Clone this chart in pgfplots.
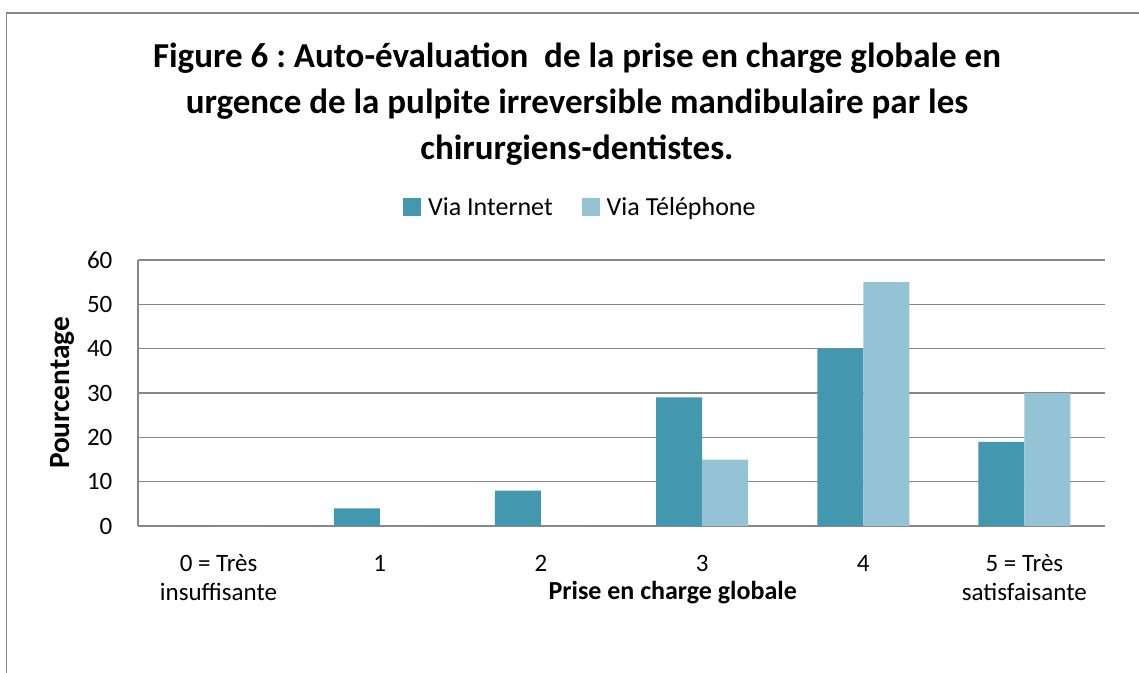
\documentclass[border=0pt]{standalone}
\usepackage{pgfplots}
\pgfplotsset{compat=1.18}
\usepackage{fontspec}
\setmainfont{Carlito}
\frenchspacing
\definecolor{cInt}{HTML}{4397AF}
\definecolor{cTel}{HTML}{93C3D4}
\definecolor{cGrid}{HTML}{878787}
\begin{document}
\begin{tikzpicture}
\useasboundingbox (0pt,0pt) rectangle (854.25pt,-504.75pt);
\clip (0pt,0pt) rectangle (854.25pt,-504.75pt);
\draw[cGrid, line width=1.4pt] (4.9pt,-9.5pt) rectangle (900pt,-600pt);
\begin{axis}[
  at={(103.5pt,-394.5pt)}, anchor=south west,
  scale only axis, width=725.25pt, height=199.5pt,
  ybar=0pt, bar width=34.5pt,
  xmin=-0.5, xmax=5.5, ymin=0, ymax=60,
  xtick=data,
  xticklabels={{0 = Très\\insuffisante},{1\\\phantom{x}},{2\\\phantom{x}},{3\\\phantom{x}},{4\\\phantom{x}},{5 = Très\\satisfaisante}},
  ytick={0,10,20,30,40,50,60},
  major tick length=0pt,
  axis x line*=bottom, axis y line*=left,
  axis line style={cGrid, line width=0.9pt, -},
  ymajorgrids, grid style={cGrid, line width=0.9pt},
  tick label style={font=\fontsize{18.75pt}{21.75pt}\selectfont, text=black},
  /pgf/number format/assume math mode=true,
  yticklabel style={inner sep=0pt, xshift=-19pt, anchor=east},
  xticklabel style={align=center, inner sep=0pt, anchor=base, yshift=-55.5pt},
  title={Figure 6 : Auto-évaluation\ \ de la prise en charge globale en\\urgence de la pulpite irreversible mandibulaire par les\\chirurgiens-dentistes.},
  title style={at={(axis description cs:0.454,1.556)}, anchor=center, align=center,
    font=\fontsize{26.25pt}{34.5pt}\selectfont\bfseries},
  xlabel={Prise en charge globale},
  xlabel style={at={(axis description cs:0.553,-0.25)}, anchor=center,
    font=\fontsize{19.5pt}{23pt}\selectfont\bfseries},
  ylabel={Pourcentage},
  ylabel style={at={(axis description cs:-0.0786,0.5)}, anchor=center, rotate=0,
    font=\fontsize{22pt}{26pt}\selectfont\bfseries},
  legend columns=2,
  legend style={at={(axis description cs:0.458,1.199)}, anchor=center, draw=none,
    font=\fontsize{19.5pt}{23pt}\selectfont, /tikz/every even column/.append style={column sep=20pt}},
  legend image code/.code={\fill[#1] (0pt,-6.75pt) rectangle (13.5pt,6.75pt);},
  legend cell align=left,
]
\addplot[fill=cInt, draw=none] coordinates {(0,0) (1,4) (2,8) (3,29) (4,40) (5,19)};
\addplot[fill=cTel, draw=none] coordinates {(0,0) (1,0) (2,0) (3,15) (4,55) (5,30)};
\legend{\hspace{3pt}Via Internet, \hspace{3pt}Via Téléphone}
\end{axis}
\end{tikzpicture}
\end{document}
